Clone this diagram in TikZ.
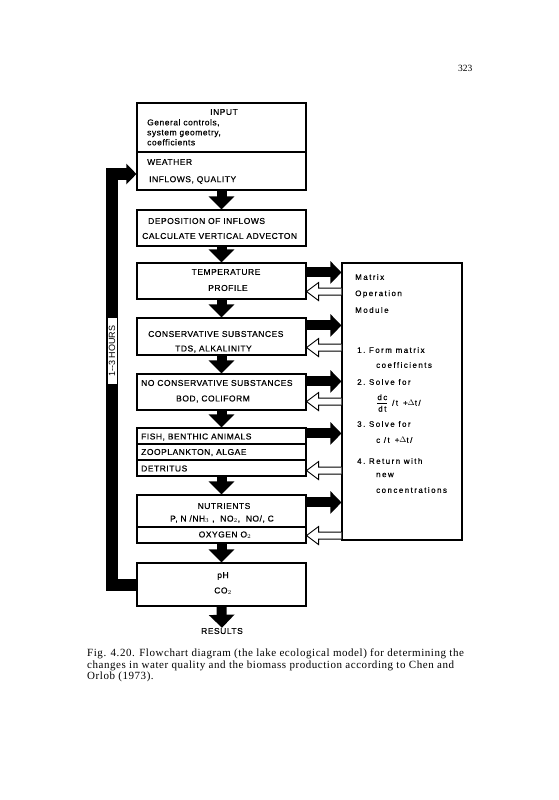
\documentclass[tikz,border=0pt]{standalone}
\usepackage{fontspec}
\setmainfont{Liberation Serif}
\newfontfamily\lettering[LetterSpace=6, FakeBold=0.5]{Liberation Sans}
\newfontfamily\wideletter[LetterSpace=18, FakeBold=0.5]{Liberation Sans}
\newfontfamily\plainsans{Liberation Sans}
\newfontfamily\captionfont[LetterSpace=5]{Liberation Serif}
\usetikzlibrary{arrows.meta,positioning,calc}

% forward (black) and return (hollow) arrows between a box and the matrix module
\newcommand{\fwdarrow}[2]{%
  \draw[fwd] let \p1=([yshift=#2]#1.north east), \p2=(matrix.west) in (\p1) -- (\x2,\y1);}
\newcommand{\backarrow}[2]{%
  \draw[line width=0.9pt, fill=white] let \p1=([yshift=#2]#1.south east), \p2=(matrix.west) in
    (\x2,\y1+3.5pt) -- (\x1+12pt,\y1+3.5pt) -- (\x1+12pt,\y1+9pt) -- (\x1,\y1)
    -- (\x1+12pt,\y1-9pt) -- (\x1+12pt,\y1-3.5pt) -- (\x2,\y1-3.5pt);}

\begin{document}
\begin{tikzpicture}[x=1pt, y=-1pt,
  box/.style={draw, line width=1.1pt, minimum width=169pt, inner sep=0pt},
  txt/.style={font=\lettering\fontsize{8.5}{10}\selectfont, inner sep=0pt, align=left},
  mtxt/.style={font=\wideletter\fontsize{8}{10}\selectfont, inner sep=0pt, anchor=west},
  down/.style={line width=10pt, -{Triangle[width=25pt, length=13pt]}},
  fwd/.style={line width=10pt, -{Triangle[width=22pt, length=11pt]}},
  loopline/.style={line width=12pt, line join=miter, -{Triangle[width=20pt, length=10pt]}},
  divider/.style={line width=1.1pt}
]
\useasboundingbox (0,0) rectangle (558,800);

% page number
\node[font=\fontsize{9.5}{10}\selectfont, anchor=east] (page) at (476,68) {323};

% main column
\node[box, minimum height=87pt] (input) at (221.5,146.5) {};
\node[box, minimum height=36pt] (depos) at (221.5,228) {};
\node[box, minimum height=36pt] (temp) at (221.5,281) {};
\node[box, minimum height=37pt] (cons) at (221.5,336.5) {};
\node[box, minimum height=36pt] (nocons) at (221.5,392) {};
\node[box, minimum height=48pt] (fish) at (221.5,452) {};
\node[box, minimum height=48pt] (nutr) at (221.5,519) {};
\node[box, minimum height=43pt] (ph) at (221.5,584.5) {};
\node[txt] (results) at (222,631) {RESULTS};

\node[box, minimum width=120pt, minimum height=277pt] (matrix) at (402,401.5) {};

% dividers
\draw[divider] ($(input.west)+(0,5.5)$) -- ($(input.east)+(0,5.5)$);
\draw[divider] ($(fish.west)+(0,-8)$) -- ($(fish.east)+(0,-8)$);
\draw[divider] ($(fish.west)+(0,8)$) -- ($(fish.east)+(0,8)$);
\draw[divider] ($(nutr.west)+(0,8)$) -- ($(nutr.east)+(0,8)$);

% box texts
\node[txt] (inputhd) at (224,112) {INPUT};
\node[txt, anchor=north west] (general) at (147,119)
  {General controls,\\system geometry,\\coefficients};
\node[txt, anchor=west] (weather) at (147,162) {WEATHER};
\node[txt, anchor=west] (inflows) at (149,180) {INFLOWS, QUALITY};

\node[txt, anchor=west] (deposa) at (148,221) {DEPOSITION OF INFLOWS};
\node[txt, anchor=west] (deposb) at (142,236) {CALCULATE VERTICAL ADVECTON};

\node[txt] (tempa) at (226,272) {TEMPERATURE};
\node[txt] (tempb) at (228,288) {PROFILE};

\node[txt, anchor=west] (consa) at (148,334) {CONSERVATIVE SUBSTANCES};
\node[txt, anchor=west] (consb) at (175,349) {TDS, ALKALINITY};

\node[txt, anchor=west] (noconsa) at (141,383) {NO CONSERVATIVE SUBSTANCES};
\node[txt, anchor=west] (noconsb) at (176,399) {BOD, COLIFORM};

\node[txt, anchor=west] (fisha) at (141,437) {FISH, BENTHIC ANIMALS};
\node[txt, anchor=west] (fishb) at (141,452.5) {ZOOPLANKTON, ALGAE};
\node[txt, anchor=west] (fishc) at (141,468.5) {DETRITUS};

\node[txt] (nutra) at (224,506) {NUTRIENTS};
\node[txt] (nutrb) at (222,519) {P, N /NH$_3$ , \ NO$_2$, \ NO/, C};
\node[txt] (nutrc) at (225,535) {OXYGEN O$_2$};

\node[txt] (pha) at (223,576) {pH};
\node[txt] (phb) at (223,591) {CO$_2$};

% matrix module text
\node[mtxt] (ma) at (355,277) {Matrix};
\node[mtxt] (mb) at (355,294) {Operation};
\node[mtxt] (mc) at (355,310) {Module};
\node[mtxt] (m1) at (357,350) {1.\ Form matrix};
\node[mtxt] (m1b) at (376,365) {coefficients};
\node[mtxt] (m2) at (357,382) {2.\ Solve for};
\node[mtxt] (m2b) at (376,403) {$\displaystyle\frac{\hbox{dc}}{\hbox{dt}}$ /t \,+$\Delta$t/};
\node[mtxt] (m3) at (357,424) {3.\ Solve for};
\node[mtxt] (m3b) at (376,440) {c /t \,+$\Delta$t/};
\node[mtxt] (m4) at (357,461) {4.\ Return with};
\node[mtxt] (m4b) at (376,475) {new};
\node[mtxt] (m4c) at (376,490) {concentrations};

% flow down the column
\draw[down] (input) -- (depos);
\draw[down] (depos) -- (temp);
\draw[down] (temp) -- (cons);
\draw[down] (cons) -- (nocons);
\draw[down] (nocons) -- (fish);
\draw[down] (fish) -- (nutr);
\draw[down] (nutr) -- (ph);
\draw[down] (ph.south) -- (results.north);

% exchange with the matrix module
\fwdarrow{temp}{-10pt}
\backarrow{temp}{8pt}
\fwdarrow{cons}{-8pt}
\backarrow{cons}{8pt}
\fwdarrow{nocons}{-8pt}
\backarrow{nocons}{9pt}
\fwdarrow{fish}{-6pt}
\backarrow{fish}{6pt}
\fwdarrow{nutr}{-8pt}
\backarrow{nutr}{8pt}

% time step loop
\coordinate (loopx) at (112,380);
\draw[loopline] (ph.west) -| (loopx) |- ([yshift=-27.5pt]input.west);
\node[fill=white, rotate=90, inner sep=1pt, minimum height=9pt, minimum width=66pt,
  font=\plainsans\fontsize{9}{10}\selectfont] (hours) at (112,351) {1--3 HOURS};

% caption
\node[anchor=north west, align=left, inner sep=0pt,
  font=\captionfont\fontsize{11}{11.5}\selectfont] (caption) at (87,649)
  {Fig. 4.20. Flowchart diagram (the lake ecological model) for determining the\\
   changes in water quality and the biomass production according to Chen and\\
   Orlob (1973).};
\end{tikzpicture}
\end{document}
